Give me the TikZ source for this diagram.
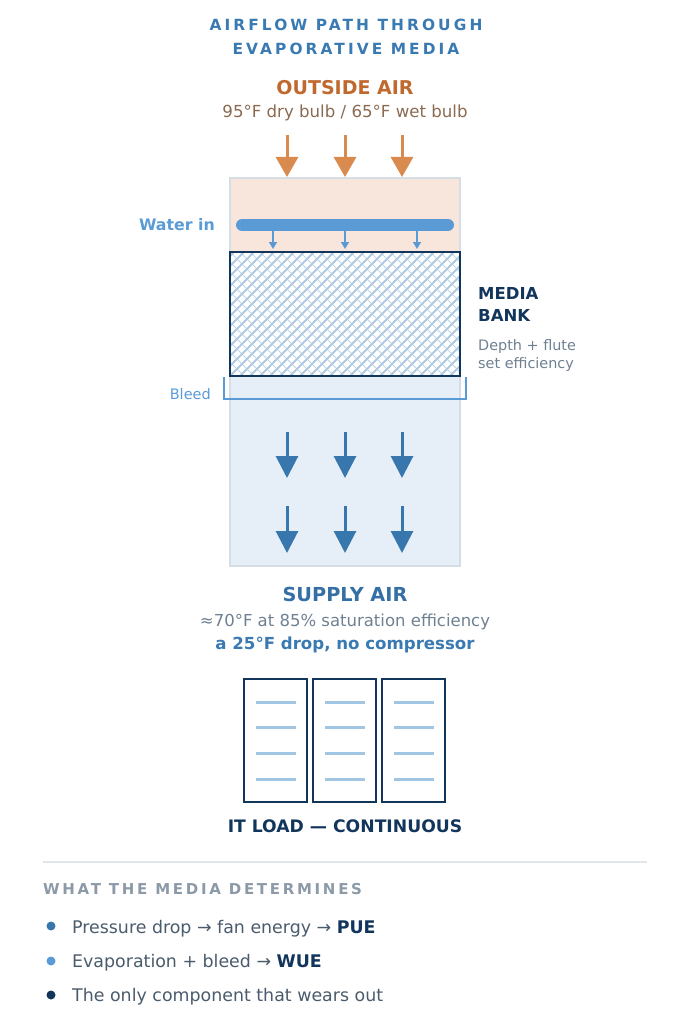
\documentclass[tikz,border=0pt]{standalone}
\usepackage{fontspec}
\setmainfont{DejaVu Sans}
\usepackage{tikz}
\usetikzlibrary{arrows.meta}

\definecolor{navy}{HTML}{12355B}
\definecolor{steel}{HTML}{3A7AB2}
\definecolor{airblue}{HTML}{3877AD}
\definecolor{water}{HTML}{5B9BD5}
\definecolor{rust}{HTML}{C0692E}
\definecolor{tan}{HTML}{8B6A50}
\definecolor{peach}{HTML}{D98A4E}
\definecolor{pinkfill}{HTML}{F8E6DC}
\definecolor{icefill}{HTML}{E6EFF7}
\definecolor{frame}{HTML}{D5DDE5}
\definecolor{hatch}{HTML}{AFCAE1}
\definecolor{slate}{HTML}{6E8091}
\definecolor{ink}{HTML}{4A5B6C}
\definecolor{mist}{HTML}{8C9AA7}
\definecolor{rackline}{HTML}{A0C6E4}
\definecolor{rule}{HTML}{E1E6EC}

\begin{document}
\begin{tikzpicture}[x=1pt,y=-1pt,
    lbl/.style={inner sep=0pt, anchor=base},
    spaced/.style={font=\bfseries\fontsize{15.4}{17}\selectfont\addfontfeature{LetterSpace=20}},
    inflow/.style={peach, line width=3pt, -{Triangle[width=22pt,length=20pt]}},
    outflow/.style={airblue, line width=3pt, -{Triangle[width=22pt,length=22pt]}},
    drip/.style={water, line width=1.5pt, -{Triangle[width=8pt,length=7pt]}},
    rack/.style={draw=navy, line width=2pt},
    bullet/.style={lbl, anchor=base west, text=ink, font=\fontsize{17.4}{19}\selectfont}]
  \useasboundingbox (0,0) rectangle (690,1024);

  % 1. title
  \node[lbl, spaced, text=steel] (title1) at (346,31) {AIRFLOW PATH THROUGH};
  \node[lbl, spaced, text=steel] (title2) at (346,55) {EVAPORATIVE MEDIA};

  % 2. outside air
  \node[lbl, text=rust, font=\bfseries\fontsize{19}{21}\selectfont] (outside) at (345,95) {OUTSIDE AIR};
  \node[lbl, text=tan, font=\fontsize{16.6}{18}\selectfont] (outsideT) at (345,118) {95°F dry bulb / 65°F wet bulb};
  \foreach \x in {287,345,402}
    \draw[inflow] (\x,135) -- (\x,177);

  % 3. housing: wet zone, media, supply zone
  \coordinate (wetNW) at (230,178);
  \coordinate (mediaNW) at (230,252);
  \coordinate (mediaSE) at (460,376);
  \coordinate (supplySE) at (460,566);
  \filldraw[fill=pinkfill, draw=frame, line width=1.5pt] (wetNW) rectangle (mediaSE |- mediaNW);
  \filldraw[fill=icefill, draw=frame, line width=1.5pt] (mediaNW |- mediaSE) rectangle (supplySE);

  % water header
  \draw[water, line width=12pt, line cap=round] (242,225) -- (448,225);
  \node[lbl, anchor=base east, text=water, font=\bfseries\fontsize{15.8}{18}\selectfont] (waterin) at (215,230) {Water in};
  \foreach \x in {273,345,417}
    \draw[drip] (\x,231) -- (\x,249);

  % media bank hatch
  \begin{scope}
    \clip (mediaNW) rectangle (mediaSE);
    \fill[white] (mediaNW) rectangle (mediaSE);
    \foreach \x in {100,110,...,470}
      \draw[hatch, line width=1.8pt] (\x,376) -- ++(124,-124);
    \foreach \x in {100,110,...,470}
      \draw[hatch, line width=1pt, opacity=0.8] (\x,252) -- ++(124,124);
  \end{scope}
  \draw[navy, line width=2.5pt] (mediaNW) rectangle (mediaSE);
  \node[lbl, anchor=base west, text=navy, font=\bfseries\fontsize{16.5}{18}\selectfont] (mediaL1) at (478,299) {MEDIA};
  \node[lbl, anchor=base west, text=navy, font=\bfseries\fontsize{16.5}{18}\selectfont] (mediaL2) at (478,321) {BANK};
  \node[lbl, anchor=base west, text=slate, font=\fontsize{14.4}{16}\selectfont] (mediaN1) at (478,350) {Depth + flute};
  \node[lbl, anchor=base west, text=slate, font=\fontsize{14.4}{16}\selectfont] (mediaN2) at (478,368) {set efficiency};

  % bleed tray
  \draw[water, line width=2pt] (224,377) -- (224,399) -- (466,399) -- (466,377);
  \node[lbl, anchor=base east, text=water, font=\fontsize{14.5}{16}\selectfont] (bleed) at (211,399) {Bleed};

  % supply air arrows
  \foreach \x in {287,345,402} {
    \draw[outflow] (\x,432) -- (\x,478);
    \draw[outflow] (\x,506) -- (\x,553);
  }

  % 4. supply air text
  \node[lbl, text=airblue!90!navy, font=\bfseries\fontsize{19.3}{21}\selectfont] (supply) at (345,601) {SUPPLY AIR};
  \node[lbl, text=slate, font=\fontsize{16.5}{18}\selectfont] (supplyT) at (345,626) {≈70°F at 85\% saturation efficiency};
  \node[lbl, text=steel, font=\bfseries\fontsize{16.6}{18}\selectfont] (supplyD) at (345,649) {a 25°F drop, no compressor};

  % 5. IT racks
  \foreach \x in {244,313,382} {
    \draw[rack] (\x,679) rectangle ++(63,123);
    \foreach \y in {702,727,753,779}
      \draw[rackline, line width=3pt] (\x+12,\y) -- ++(40,0);
  }
  \node[lbl, text=navy, font=\bfseries\fontsize{17.2}{19}\selectfont] (itload) at (345,832) {IT LOAD — CONTINUOUS};

  % 6. legend
  \draw[rule, line width=2pt] (43,862) -- (647,862);
  \node[lbl, anchor=base west, text=mist, font=\bfseries\fontsize{15}{17}\selectfont\addfontfeature{LetterSpace=18}] (legendT) at (43,894) {WHAT THE MEDIA DETERMINES};
  \fill[airblue] (51,926) circle (4.5);
  \fill[water] (51,961) circle (4.5);
  \fill[navy] (51,995) circle (4.5);
  \node[bullet] (pue) at (72,933) {Pressure drop → fan energy → \textcolor{navy}{\bfseries PUE}};
  \node[bullet] (wue) at (72,967) {Evaporation + bleed → \textcolor{navy}{\bfseries WUE}};
  \node[bullet] (wear) at (72,1001) {The only component that wears out};
\end{tikzpicture}
\end{document}
